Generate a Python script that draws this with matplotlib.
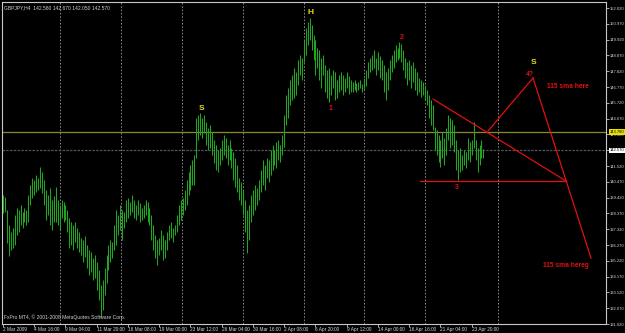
import matplotlib
matplotlib.use('Agg')
import matplotlib.pyplot as plt
import matplotlib.transforms as mtransforms
import numpy as np

# GBPJPY H4 bars (high / low of every bar)
high = [139.59, 139.46, 138.59, 137.60, 137.13, 137.40, 138.26, 138.73, 138.59, 138.93,
        138.46, 138.73, 138.59, 139.59, 140.26, 140.72, 140.59, 140.92, 140.72, 141.45,
        141.12, 140.59, 139.92, 139.59, 140.06, 139.26, 139.53, 140.12, 139.26, 138.93,
        139.26, 139.12, 138.93, 138.59, 138.06, 137.80, 137.60, 137.80, 137.40, 137.13,
        136.73, 136.60, 136.87, 136.27, 135.94, 135.80, 135.40, 135.60, 135.14, 134.61,
        133.61, 133.94, 134.74, 135.60, 136.27, 136.60, 136.47, 137.60, 138.59, 138.26,
        138.93, 138.59, 138.46, 139.26, 139.39, 139.12, 139.59, 139.26, 138.93, 139.26,
        139.06, 138.73, 138.93, 139.26, 139.12, 138.73, 138.26, 137.60, 136.93, 136.60,
        136.73, 137.26, 136.93, 136.60, 137.13, 137.60, 137.80, 137.40, 137.60, 138.26,
        138.93, 139.26, 139.39, 139.92, 140.59, 141.12, 141.58, 141.92, 142.25, 144.71,
        144.91, 145.04, 144.71, 144.91, 144.44, 144.04, 144.24, 143.78, 143.25, 142.91,
        142.58, 142.71, 143.25, 143.58, 143.38, 142.91, 143.25, 142.71, 142.45, 142.05,
        141.58, 140.72, 140.46, 139.92, 139.26, 138.59, 138.93, 139.59, 139.92, 140.26,
        140.06, 140.59, 141.25, 141.92, 141.58, 142.05, 141.92, 142.58, 142.91, 142.58,
        143.11, 143.25, 142.91, 143.58, 144.91, 146.24, 146.70, 147.23, 147.57, 148.03,
        147.76, 148.56, 148.89, 148.70, 149.89, 150.69, 151.09, 151.35, 150.89, 150.22,
        149.89, 149.36, 149.23, 148.70, 148.89, 148.23, 147.90, 148.03, 147.57, 147.90,
        147.76, 147.23, 147.57, 147.76, 147.57, 147.37, 147.76, 147.50, 147.23, 147.10,
        147.23, 147.03, 147.10, 147.23, 146.97, 147.37, 147.90, 148.43, 148.70, 148.89,
        149.23, 148.70, 149.10, 148.83, 148.56, 148.23, 147.76, 148.03, 148.56, 148.89,
        149.23, 149.56, 149.36, 149.76, 149.63, 149.23, 148.70, 148.43, 148.56, 148.23,
        148.43, 148.03, 147.76, 147.37, 147.23, 147.10, 146.90, 146.57, 146.24, 145.90,
        145.57, 144.11, 143.91, 143.58, 143.25, 143.78, 143.38, 144.04, 144.91, 144.71,
        144.58, 144.24, 143.25, 142.58, 142.71, 142.25, 142.58, 142.45, 143.38, 143.11,
        143.25, 144.44, 143.25, 142.71, 142.91, 143.25, 142.67]
low = [138.39, 138.46, 136.40, 135.54, 135.94, 136.07, 136.27, 136.93, 137.13, 137.60,
       137.40, 137.80, 137.60, 137.80, 138.93, 139.39, 139.59, 139.79, 139.92, 140.06,
       139.72, 138.93, 137.93, 138.26, 137.60, 137.26, 137.80, 137.80, 137.60, 137.26,
       138.06, 137.80, 137.93, 137.13, 136.07, 136.27, 135.94, 136.47, 136.07, 135.80,
       135.60, 135.14, 135.47, 134.74, 134.27, 134.47, 133.94, 134.07, 133.28, 132.61,
       131.48, 131.95, 132.94, 133.74, 134.61, 135.14, 135.40, 135.94, 136.27, 136.93,
       137.26, 136.60, 137.40, 137.80, 138.06, 138.26, 138.46, 138.06, 137.93, 138.26,
       137.80, 137.93, 138.06, 138.26, 137.80, 137.60, 136.60, 135.94, 135.40, 134.94,
       135.60, 135.94, 135.27, 135.40, 135.94, 136.60, 136.73, 136.47, 136.93, 137.13,
       137.60, 137.93, 138.26, 138.59, 138.93, 139.59, 139.92, 140.26, 140.26, 142.05,
       143.25, 143.58, 143.38, 143.71, 142.91, 142.58, 142.71, 142.25, 141.72, 141.25,
       141.12, 141.58, 141.92, 142.25, 142.05, 141.58, 141.92, 141.38, 140.59, 140.12,
       139.79, 139.26, 138.93, 138.26, 137.13, 135.74, 136.60, 137.80, 138.26, 138.59,
       138.93, 139.26, 139.79, 140.26, 139.92, 140.72, 140.46, 140.92, 141.25, 141.58,
       141.38, 141.92, 141.78, 142.25, 142.78, 144.24, 144.71, 145.57, 145.90, 146.04,
       146.24, 146.90, 147.57, 147.23, 148.43, 148.89, 149.56, 149.89, 149.23, 148.56,
       147.57, 148.03, 147.23, 146.70, 147.57, 146.44, 146.04, 145.77, 146.24, 146.70,
       145.90, 146.04, 146.44, 146.57, 146.24, 146.44, 146.70, 146.30, 146.44, 146.44,
       146.57, 146.44, 146.57, 146.70, 146.44, 146.57, 146.83, 147.37, 147.76, 147.90,
       148.03, 147.57, 147.90, 147.37, 147.23, 146.44, 145.90, 146.57, 147.23, 147.76,
       148.03, 148.43, 148.56, 148.70, 148.43, 147.90, 147.37, 146.90, 147.23, 146.70,
       147.10, 146.57, 146.24, 146.44, 146.10, 146.24, 145.90, 145.57, 144.71, 144.24,
       143.91, 142.58, 142.25, 141.78, 141.45, 142.05, 141.58, 142.25, 143.25, 142.71,
       142.91, 142.45, 141.25, 140.59, 141.12, 141.25, 141.58, 141.38, 141.92, 141.78,
       142.25, 142.71, 141.92, 141.12, 141.58, 142.05, 142.05]

price_ticks = [152.02, 150.97, 149.92, 148.87, 147.82, 146.77, 145.72, 144.67, 143.62,
               142.57, 141.52, 140.47, 139.42, 138.37, 137.32, 136.27, 135.22, 134.17,
               133.12, 132.07, 131.02]
date_labels = ['2 Mar 2009', '4 Mar 16:00', '9 Mar 04:00', '11 Mar 20:00', '16 Mar 08:00',
               '19 Mar 00:00', '23 Mar 12:00', '26 Mar 04:00', '30 Mar 16:00', '2 Apr 08:00',
               '6 Apr 20:00', '9 Apr 12:00', '14 Apr 00:00', '16 Apr 16:00', '21 Apr 04:00',
               '23 Apr 20:00']
date_bars = [0, 16, 32, 48, 64, 80, 96, 112, 128, 144, 160, 176, 192, 208, 224, 240]
week_bars = [29.2, 60.4, 91.7, 122.9, 154.1, 184.8, 216.1, 253.5]

level_price = 143.78   # yellow horizontal line
bid_price = 142.57

# red drawings: (bar, price) pairs
trend_line = [(220.2, 145.97), (288.3, 140.52)]
support_line = [(213.5, 140.52), (288.3, 140.52)]
up_leg = [(248.3, 143.84), (271.4, 147.37)]
down_leg = [(271.4, 147.37), (301.1, 135.40)]

plt.rcParams['font.family'] = ['Liberation Sans', 'DejaVu Sans']

fig = plt.figure(figsize=(6.25, 3.33), dpi=100, facecolor='black')
ax = fig.add_axes([2 / 625, 9 / 333, 604 / 625, 322 / 333])
ax.set_facecolor('black')

x = np.arange(len(high))
for b in week_bars:
    ax.axvline(b, color='#9a9a9a', lw=0.6, ls=(0, (2, 2)), zorder=1)
ax.axhline(level_price, color='#8c8a28', lw=0.9, zorder=2)
ax.axhline(bid_price, color='#4c5560', lw=0.9, ls=(0, (2, 1)), zorder=2)
ax.vlines(x, low, high, colors='#1fa81f', linewidth=0.75, zorder=3)

for line in [trend_line, support_line, up_leg, down_leg]:
    xs, ys = zip(*line)
    ax.plot(xs, ys, color='#e01010', lw=0.9, zorder=4)

ax.set_xlim(-0.512, 308.76)
ax.set_ylim(131.02, 152.42)

for s in ax.spines.values():
    s.set_color('#c8c8c8')
    s.set_linewidth(0.8)

ax.yaxis.tick_right()
ax.set_yticks(price_ticks)
ax.set_yticklabels(['%.3f' % p for p in price_ticks])
ax.set_xticks(date_bars)
ax.set_xticklabels(date_labels)
for lbl in ax.get_xticklabels():
    lbl.set_horizontalalignment('left')
ax.tick_params(axis='both', colors='#c8c8c8', labelcolor='#d8d8d8', length=2, width=0.6)
ax.tick_params(axis='y', labelsize=3.0, pad=1)
ax.tick_params(axis='x', labelsize=3.4, pad=0.3)

# price boxes on the right scale
tr = mtransforms.blended_transform_factory(ax.transAxes, ax.transData)
ax.text(1.0055, level_price, '143.780', transform=tr, fontsize=3.0, color='black',
        va='center', ha='left', clip_on=False,
        bbox=dict(facecolor='#e8e000', edgecolor='none', pad=0.5))
ax.text(1.0055, bid_price, '142.570', transform=tr, fontsize=3.0, color='black',
        va='center', ha='left', clip_on=False,
        bbox=dict(facecolor='white', edgecolor='none', pad=0.5))

# labels
ax.text(0.004, 0.99, 'GBPJPY,H4  142.580 142.670 142.050 142.570', transform=ax.transAxes,
        fontsize=3.6, color='#d0d0d0', va='top', ha='left')
ax.text(0.003, 0.012, 'FxPro MT4, \u00a9 2001-2008 MetaQuotes Software Corp.',
        transform=ax.transAxes, fontsize=3.6, color='#d0d0d0', va='bottom', ha='left')

yellow = '#e8e020'
red = '#e01010'
ax.text(157.7, 151.69, 'H', color=yellow, fontsize=6.0, fontweight='bold', ha='center', va='center')
ax.text(101.9, 145.31, 'S', color=yellow, fontsize=6.0, fontweight='bold', ha='center', va='center')
ax.text(271.4, 148.43, 'S', color=yellow, fontsize=6.0, fontweight='bold', ha='center', va='center')
ax.text(167.9, 145.37, '1', color=red, fontsize=5.0, fontweight='bold', ha='center', va='center')
ax.text(204.3, 150.09, '2', color=red, fontsize=5.0, fontweight='bold', ha='center', va='center')
ax.text(232.5, 140.12, '3', color=red, fontsize=5.0, fontweight='bold', ha='center', va='center')
ax.text(269.8, 147.63, '4?', color=red, fontsize=5.0, fontweight='bold', ha='center', va='center')
ax.text(278.5, 146.83, '115 sma here', color=red, fontsize=4.8, fontweight='bold', ha='left', va='center')
ax.text(276.5, 134.94, '115 sma hereg', color=red, fontsize=4.8, fontweight='bold', ha='left', va='center')

fig.savefig('out.png', dpi=100, facecolor='black')
